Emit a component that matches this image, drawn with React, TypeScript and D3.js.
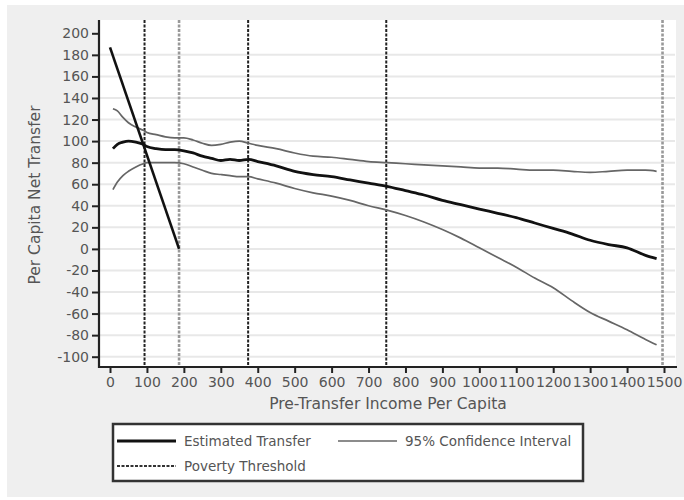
import React, { useEffect, useRef } from 'react';
import * as d3 from 'd3';

// income points (pre-transfer income per capita)
const income = [8, 20, 35, 50, 70, 90, 100, 125, 150, 175, 200, 225, 250, 275, 300, 325, 350, 375, 400, 450, 500, 550, 600, 650, 700, 750, 800, 850, 900, 950, 1000, 1050, 1100, 1150, 1200, 1250, 1300, 1350, 1400, 1450, 1480];
const estimated = [93, 97, 99, 100, 99, 97, 95, 93, 92, 92, 91, 89, 86, 84, 82, 83, 82, 83, 81, 77, 72, 69, 67, 64, 61, 58, 54, 50, 45, 41, 37, 33, 29, 24, 19, 14, 8, 4, 1, -6, -9];
const upperCI = [130, 128, 122, 117, 113, 110, 108, 106, 104, 103, 103, 101, 98, 96, 97, 99, 100, 98, 96, 93, 89, 86, 85, 83, 81, 80, 79, 78, 77, 76, 75, 75, 74, 73, 73, 72, 71, 72, 73, 73, 72];
const lowerCI = [55, 62, 68, 72, 76, 79, 80, 80, 80, 80, 79, 76, 73, 70, 69, 68, 67, 67, 65, 61, 56, 52, 49, 45, 40, 36, 31, 25, 18, 10, 1, -8, -17, -27, -36, -48, -59, -67, -75, -84, -89];

// poverty gap line: from (0, z) down to (z, 0)
const povertyGap = [
    { x: 0, y: 187 },
    { x: 187, y: 0 },
];
// thresholds: z/2, z, 2z, 4z, 8z
const thresholds = [93.5, 187, 374, 748, 1496];
const thresholdShade = ['#222', '#999', '#222', '#222', '#999'];

const xTicks = [0, 100, 200, 300, 400, 500, 600, 700, 800, 900, 1000, 1100, 1200, 1300, 1400, 1500];
const yTicks = [200, 180, 160, 140, 120, 100, 80, 60, 40, 20, 0, -20, -40, -60, -80, -100];

const FONT = '"DejaVu Sans", sans-serif';

const App: React.FC = () => {
    const ref = useRef<SVGSVGElement>(null);

    useEffect(() => {
        if (!ref.current) return;
        const svg = d3.select(ref.current);
        svg.selectAll('*').remove();

        const plot = { left: 99, right: 677, top: 20, bottom: 367 };

        // outer background
        svg.append('rect').attr('x', 7).attr('y', 5).attr('width', 677).attr('height', 492).attr('fill', '#efefef');
        svg.append('rect')
            .attr('x', plot.left)
            .attr('y', plot.top)
            .attr('width', plot.right - plot.left - 1)
            .attr('height', plot.bottom - plot.top)
            .attr('fill', '#fff');

        const xScale = d3.scaleLinear().domain([0, 1500]).range([110, 664]);
        const yScale = d3.scaleLinear().domain([-100, 200]).range([356.7, 33.3]);

        // gridlines
        svg.append('g')
            .selectAll('line')
            .data(yTicks.filter((t) => t !== 200))
            .enter()
            .append('line')
            .attr('x1', plot.left)
            .attr('x2', plot.right - 2)
            .attr('y1', (d) => yScale(d))
            .attr('y2', (d) => yScale(d))
            .attr('stroke', '#e8e8e8')
            .attr('stroke-width', 2);

        // threshold verticals
        svg.append('g')
            .selectAll('line')
            .data(thresholds)
            .enter()
            .append('line')
            .attr('x1', (d) => xScale(d))
            .attr('x2', (d) => xScale(d))
            .attr('y1', plot.top)
            .attr('y2', plot.bottom)
            .attr('stroke', (d, i) => thresholdShade[i])
            .attr('stroke-width', (d, i) => (thresholdShade[i] === '#999' ? 2.6 : 2))
            .attr('stroke-dasharray', '3,1.5');

        const line = d3
            .line<number>()
            .x((d, i) => xScale(income[i]))
            .y((d) => yScale(d))
            .curve(d3.curveMonotoneX);

        svg.append('path').datum(upperCI).attr('fill', 'none').attr('stroke', '#666').attr('stroke-width', 1.7).attr('d', line);
        svg.append('path').datum(lowerCI).attr('fill', 'none').attr('stroke', '#666').attr('stroke-width', 1.7).attr('d', line);
        svg.append('path').datum(estimated).attr('fill', 'none').attr('stroke', '#111').attr('stroke-width', 2.8).attr('d', line);

        const gapLine = d3
            .line<{ x: number; y: number }>()
            .x((d) => xScale(d.x))
            .y((d) => yScale(d.y));
        svg.append('path').datum(povertyGap).attr('fill', 'none').attr('stroke', '#111').attr('stroke-width', 2.6).attr('d', gapLine);

        // axes
        const yAxis = svg
            .append('g')
            .attr('transform', `translate(${plot.left},0)`)
            .call(d3.axisLeft(yScale).tickValues(yTicks).tickSize(7).tickSizeOuter(0).tickFormat((d) => String(d)));
        const xAxis = svg
            .append('g')
            .attr('transform', `translate(0,${plot.bottom})`)
            .call(d3.axisBottom(xScale).tickValues(xTicks).tickSize(6).tickSizeOuter(0).tickFormat((d) => String(d)));

        [yAxis, xAxis].forEach((ax) => {
            ax.select('.domain').remove();
            ax.selectAll('.tick line').attr('stroke', '#222').attr('stroke-width', 2);
            ax.selectAll('.tick text').attr('fill', '#555').style('font-family', FONT).style('font-size', '14px');
        });
        yAxis.selectAll('.tick text').attr('x', -10);
        xAxis.selectAll('.tick text').attr('y', 10);

        svg.append('line').attr('x1', plot.left).attr('x2', plot.left).attr('y1', plot.top).attr('y2', plot.bottom + 1).attr('stroke', '#222').attr('stroke-width', 2.2);
        svg.append('line').attr('x1', plot.left).attr('x2', plot.right).attr('y1', plot.bottom).attr('y2', plot.bottom).attr('stroke', '#222').attr('stroke-width', 2.2);

        // titles
        svg.append('text')
            .attr('x', 388)
            .attr('y', 409)
            .attr('text-anchor', 'middle')
            .attr('fill', '#555')
            .style('font-family', FONT)
            .style('font-size', '15.5px')
            .text('Pre-Transfer Income Per Capita');
        svg.append('text')
            .attr('transform', 'translate(40,195) rotate(-90)')
            .attr('text-anchor', 'middle')
            .attr('fill', '#555')
            .style('font-family', FONT)
            .style('font-size', '15.5px')
            .text('Per Capita Net Transfer');

        // legend
        const lg = svg.append('g');
        lg.append('rect').attr('x', 113).attr('y', 424).attr('width', 470).attr('height', 57).attr('fill', '#fff').attr('stroke', '#333').attr('stroke-width', 2.5);
        const items = [
            { label: 'Estimated Transfer', x: 117, y: 441, stroke: '#111', w: 2.8, dash: null },
            { label: '95% Confidence Interval', x: 338, y: 441, stroke: '#666', w: 1.7, dash: null },
            { label: 'Poverty Threshold', x: 117, y: 466, stroke: '#333', w: 2, dash: '3,1.5' },
        ];
        items.forEach((it) => {
            lg.append('line')
                .attr('x1', it.x)
                .attr('x2', it.x + 59)
                .attr('y1', it.y)
                .attr('y2', it.y)
                .attr('stroke', it.stroke)
                .attr('stroke-width', it.w)
                .attr('stroke-dasharray', it.dash);
            lg.append('text')
                .attr('x', it.x + 67)
                .attr('y', it.y + 5)
                .attr('fill', '#555')
                .style('font-family', FONT)
                .style('font-size', '13.5px')
                .text(it.label);
        });
    }, []);

    return <svg ref={ref} width={684} height={500} style={{ position: 'absolute', left: 0, top: 0 }} />;
};

export default App;
